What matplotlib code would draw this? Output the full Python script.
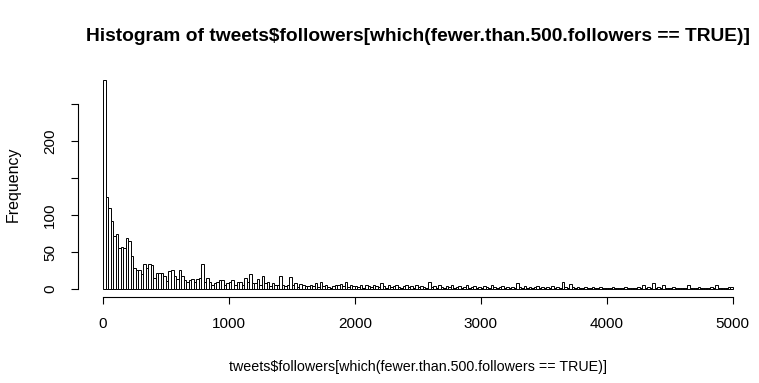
import numpy as np
import matplotlib.pyplot as plt

plt.rcParams['font.family'] = ['Liberation Sans', 'DejaVu Sans']

# histogram bins: width 20, from 0 to 5000
bin_width = 20
counts = [
    282, 124, 110, 92, 71, 75, 56, 57, 55, 69,
    65, 44, 28, 26, 26, 20, 34, 29, 34, 33,
    15, 21, 22, 22, 18, 11, 24, 26, 17, 13,
    26, 17, 12, 10, 12, 13, 10, 13, 15, 34,
    10, 15, 9, 6, 8, 10, 12, 12, 5, 8,
    10, 12, 5, 9, 9, 5, 15, 9, 20, 8,
    8, 13, 5, 17, 8, 9, 4, 8, 5, 6,
    17, 6, 4, 5, 16, 6, 8, 3, 7, 5,
    4, 4, 6, 4, 8, 3, 10, 4, 5, 3,
    2, 4, 5, 6, 7, 4, 9, 3, 5, 4,
    4, 3, 6, 2, 5, 4, 3, 6, 4, 3,
    8, 4, 2, 5, 3, 4, 6, 3, 2, 4,
    5, 3, 4, 2, 6, 3, 4, 3, 2, 10,
    3, 4, 2, 5, 3, 2, 4, 3, 5, 2,
    3, 4, 2, 3, 5, 2, 3, 4, 2, 3,
    2, 4, 3, 2, 5, 3, 2, 3, 4, 2,
    3, 2, 3, 2, 8, 3, 2, 4, 2, 3,
    2, 3, 4, 2, 3, 2, 3, 2, 4, 2,
    3, 2, 9, 3, 2, 7, 3, 2, 3, 2,
    2, 3, 2, 1, 3, 2, 2, 3, 2, 2,
    1, 2, 3, 2, 1, 2, 2, 3, 2, 2,
    1, 2, 3, 2, 6, 2, 3, 2, 8, 2,
    3, 2, 5, 2, 1, 2, 3, 2, 2, 1,
    2, 2, 5, 2, 1, 2, 3, 2, 1, 2,
    2, 3, 2, 6, 2, 1, 2, 2, 3, 3,
]
edges = np.arange(len(counts)) * bin_width

fig = plt.figure(figsize=(7.59, 3.83), dpi=100)
ax = fig.add_axes([0.1025, 0.2235, 0.8962, 0.5885])

ax.bar(edges, counts, width=bin_width, align='edge', color='white',
       edgecolor='black', linewidth=0.7)

ax.set_xlim(-200, 5200)
ax.set_ylim(-11.3, 293.3)

for s in ['top', 'right']:
    ax.spines[s].set_visible(False)
ax.spines['left'].set_bounds(0, 250)
ax.spines['bottom'].set_bounds(0, 5000)
ax.spines['left'].set_linewidth(0.8)
ax.spines['bottom'].set_linewidth(0.8)

ax.set_xticks(np.arange(0, 5001, 1000))
ax.set_yticks([0, 50, 100, 150, 200, 250])
ax.set_yticklabels(['0', '50', '100', '', '200', ''], rotation=90, va='center')
ax.tick_params(axis='both', length=5, width=0.8, labelsize=11, direction='out')
ax.tick_params(axis='x', pad=9)
ax.tick_params(axis='y', pad=10)

ax.set_xlabel('tweets$followers[which(fewer.than.500.followers == TRUE)]',
              fontsize=10.3, labelpad=21)
ax.set_ylabel('Frequency', fontsize=11.5, labelpad=16)
ax.set_title('Histogram of tweets$followers[which(fewer.than.500.followers == TRUE)]',
             fontsize=13.8, fontweight='bold', pad=22)

fig.savefig('out.png', dpi=100)
